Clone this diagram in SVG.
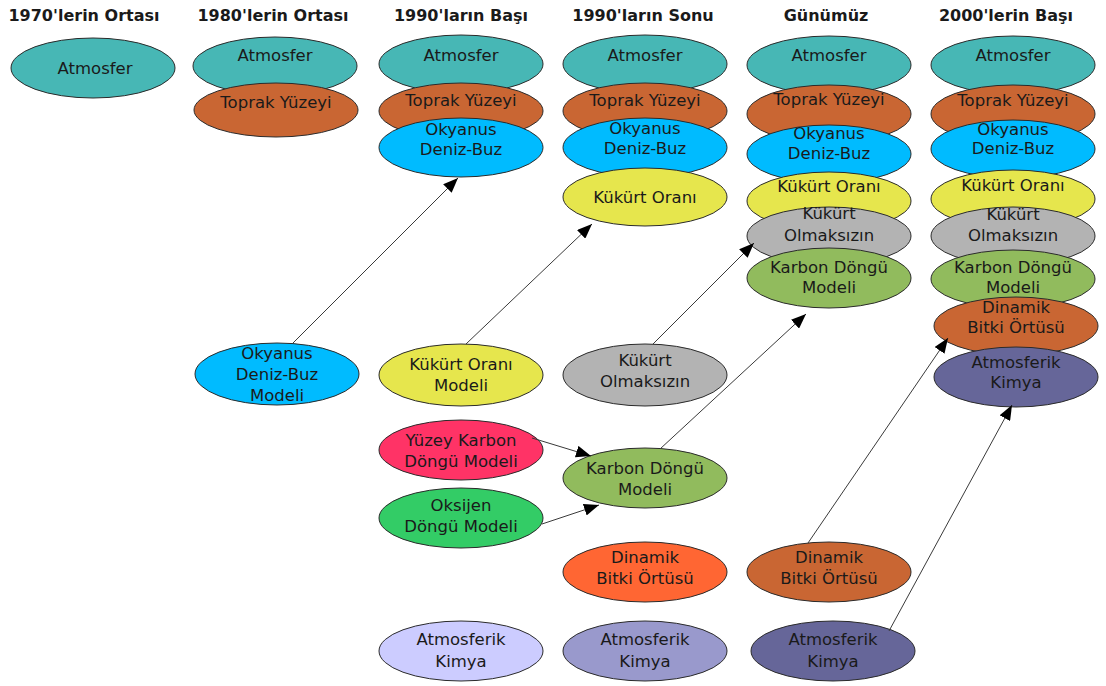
<svg xmlns="http://www.w3.org/2000/svg" width="1106" height="686" viewBox="0 0 1106 686">
  <style>
    .hd { font-family: "DejaVu Sans", Verdana, sans-serif; font-weight: bold; font-size: 16px; fill: #1a1a1a; text-anchor: middle; }
    .lb { font-family: "DejaVu Sans", Verdana, sans-serif; font-size: 16.5px; fill: #1a1a1a; text-anchor: middle; }
    ellipse { stroke: #2b2b2b; stroke-width: 1; }
    .atm { fill: #47b7b5; }
    .top { fill: #c96633; }
    .oky { fill: #00bbff; }
    .kor { fill: #e6e64d; }
    .kol { fill: #b3b3b3; }
    .kar { fill: #91bb5d; }
    .yuz { fill: #ff3366; }
    .oks { fill: #33cc66; }
    .din { fill: #ff6633; }
    .ak1 { fill: #ccccff; }
    .ak2 { fill: #9999cc; }
    .ak3 { fill: #666699; }
    .edge { stroke: #3a3a3a; stroke-width: 1; fill: none; marker-end: url(#arrow); }
  </style>
  <defs>
    <marker id="arrow" markerUnits="userSpaceOnUse" markerWidth="16" markerHeight="12" refX="15" refY="6" orient="auto">
      <path d="M0,0 L15,6 L0,12 z" fill="#000"/>
    </marker>
  </defs>
  <rect width="1106" height="686" fill="#ffffff"/>

  <!-- era headings -->
  <g id="headings">
    <text class="hd" x="84" y="21">1970'lerin Ortası</text>
    <text class="hd" x="273" y="21">1980'lerin Ortası</text>
    <text class="hd" x="461" y="21">1990'ların Başı</text>
    <text class="hd" x="643" y="21">1990'ların Sonu</text>
    <text class="hd" x="826" y="21">Günümüz</text>
    <text class="hd" x="1006" y="21">2000'lerin Başı</text>
  </g>

  <!-- mid 1970s -->
  <g id="c1-atmosfer"><ellipse class="atm" cx="93" cy="68" rx="82" ry="30"/><text class="lb" x="95" y="74">Atmosfer</text></g>

  <!-- mid 1980s -->
  <g id="c2-atmosfer"><ellipse class="atm" cx="275" cy="66" rx="82" ry="29"/><text class="lb" x="275" y="61">Atmosfer</text></g>
  <g id="c2-toprak"><ellipse class="top" cx="276" cy="110" rx="82" ry="27"/><text class="lb" x="276" y="108">Toprak Yüzeyi</text></g>

  <!-- early 1990s -->
  <g id="c3-atmosfer"><ellipse class="atm" cx="461" cy="64" rx="82" ry="29"/><text class="lb" x="461" y="61">Atmosfer</text></g>
  <g id="c3-toprak"><ellipse class="top" cx="461" cy="111" rx="82" ry="28"/><text class="lb" x="461" y="106">Toprak Yüzeyi</text></g>
  <g id="c3-okyanus"><ellipse class="oky" cx="461" cy="147.5" rx="82" ry="29.5"/><text class="lb" x="461" y="135">Okyanus</text><text class="lb" x="461" y="155">Deniz-Buz</text></g>

  <!-- late 1990s -->
  <g id="c4-atmosfer"><ellipse class="atm" cx="645" cy="64" rx="82" ry="29"/><text class="lb" x="645" y="61">Atmosfer</text></g>
  <g id="c4-toprak"><ellipse class="top" cx="645" cy="111" rx="82" ry="28"/><text class="lb" x="645" y="106">Toprak Yüzeyi</text></g>
  <g id="c4-okyanus"><ellipse class="oky" cx="645" cy="147.5" rx="82" ry="29.5"/><text class="lb" x="645" y="134">Okyanus</text><text class="lb" x="645" y="154">Deniz-Buz</text></g>
  <g id="c4-kukurt-orani"><ellipse class="kor" cx="645" cy="197" rx="82" ry="29"/><text class="lb" x="645" y="203">Kükürt Oranı</text></g>

  <!-- present day -->
  <g id="c5-atmosfer"><ellipse class="atm" cx="829" cy="65" rx="82" ry="29"/><text class="lb" x="829" y="61">Atmosfer</text></g>
  <g id="c5-toprak"><ellipse class="top" cx="829" cy="114" rx="82" ry="29"/><text class="lb" x="829" y="105">Toprak Yüzeyi</text></g>
  <g id="c5-okyanus"><ellipse class="oky" cx="829" cy="154" rx="82" ry="29"/><text class="lb" x="829" y="139">Okyanus</text><text class="lb" x="829" y="159">Deniz-Buz</text></g>
  <g id="c5-kukurt-orani"><ellipse class="kor" cx="829" cy="201" rx="82" ry="29"/><text class="lb" x="829" y="192">Kükürt Oranı</text></g>
  <g id="c5-kukurt-olmaksizin"><ellipse class="kol" cx="829" cy="236" rx="82" ry="29"/><text class="lb" x="829" y="219">Kükürt</text><text class="lb" x="829" y="241">Olmaksızın</text></g>
  <g id="c5-karbon"><ellipse class="kar" cx="829" cy="278" rx="82" ry="30"/><text class="lb" x="829" y="273">Karbon Döngü</text><text class="lb" x="829" y="293">Modeli</text></g>

  <!-- early 2000s -->
  <g id="c6-atmosfer"><ellipse class="atm" cx="1013" cy="65" rx="82" ry="29"/><text class="lb" x="1013" y="61">Atmosfer</text></g>
  <g id="c6-toprak"><ellipse class="top" cx="1013" cy="114" rx="82" ry="29"/><text class="lb" x="1013" y="106">Toprak Yüzeyi</text></g>
  <g id="c6-okyanus"><ellipse class="oky" cx="1013" cy="149" rx="82" ry="29"/><text class="lb" x="1013" y="135">Okyanus</text><text class="lb" x="1013" y="154">Deniz-Buz</text></g>
  <g id="c6-kukurt-orani"><ellipse class="kor" cx="1013" cy="199" rx="82" ry="29"/><text class="lb" x="1013" y="191">Kükürt Oranı</text></g>
  <g id="c6-kukurt-olmaksizin"><ellipse class="kol" cx="1013" cy="236" rx="82" ry="29"/><text class="lb" x="1013" y="220">Kükürt</text><text class="lb" x="1013" y="241">Olmaksızın</text></g>
  <g id="c6-karbon"><ellipse class="kar" cx="1013" cy="279" rx="82" ry="29"/><text class="lb" x="1013" y="273">Karbon Döngü</text><text class="lb" x="1013" y="293">Modeli</text></g>
  <g id="c6-dinamik"><ellipse class="top" cx="1016" cy="326" rx="82" ry="29"/><text class="lb" x="1016" y="313">Dinamik</text><text class="lb" x="1016" y="333">Bitki Örtüsü</text></g>
  <g id="c6-atmosferik"><ellipse class="ak3" cx="1016" cy="377" rx="82" ry="30"/><text class="lb" x="1016" y="368">Atmosferik</text><text class="lb" x="1016" y="388">Kimya</text></g>

  <!-- component models waiting to be coupled -->
  <g id="m-okyanus"><ellipse class="oky" cx="277" cy="374" rx="82" ry="31"/><text class="lb" x="277" y="359">Okyanus</text><text class="lb" x="277" y="380">Deniz-Buz</text><text class="lb" x="277" y="401">Modeli</text></g>
  <g id="m-kukurt-orani"><ellipse class="kor" cx="461" cy="375" rx="82" ry="31"/><text class="lb" x="461" y="370">Kükürt Oranı</text><text class="lb" x="461" y="391">Modeli</text></g>
  <g id="m-kukurt-olmaksizin"><ellipse class="kol" cx="645" cy="375" rx="82" ry="31"/><text class="lb" x="645" y="366">Kükürt</text><text class="lb" x="645" y="387">Olmaksızın</text></g>
  <g id="m-yuzey-karbon"><ellipse class="yuz" cx="461" cy="450" rx="82" ry="30"/><text class="lb" x="461" y="446">Yüzey Karbon</text><text class="lb" x="461" y="467">Döngü Modeli</text></g>
  <g id="m-oksijen"><ellipse class="oks" cx="461" cy="518" rx="82" ry="30"/><text class="lb" x="461" y="511">Oksijen</text><text class="lb" x="461" y="532">Döngü Modeli</text></g>
  <g id="m-karbon"><ellipse class="kar" cx="645" cy="478" rx="82" ry="30"/><text class="lb" x="645" y="474">Karbon Döngü</text><text class="lb" x="645" y="495">Modeli</text></g>
  <g id="m-dinamik-1"><ellipse class="din" cx="645" cy="572" rx="82" ry="30"/><text class="lb" x="645" y="563">Dinamik</text><text class="lb" x="645" y="584">Bitki Örtüsü</text></g>
  <g id="m-dinamik-2"><ellipse class="top" cx="829" cy="572" rx="82" ry="30"/><text class="lb" x="829" y="563">Dinamik</text><text class="lb" x="829" y="584">Bitki Örtüsü</text></g>
  <g id="m-atmosferik-1"><ellipse class="ak1" cx="461" cy="651" rx="82" ry="30"/><text class="lb" x="461" y="645">Atmosferik</text><text class="lb" x="461" y="667">Kimya</text></g>
  <g id="m-atmosferik-2"><ellipse class="ak2" cx="645" cy="651" rx="82" ry="30"/><text class="lb" x="645" y="645">Atmosferik</text><text class="lb" x="645" y="667">Kimya</text></g>
  <g id="m-atmosferik-3"><ellipse class="ak3" cx="833" cy="651" rx="82" ry="30"/><text class="lb" x="833" y="645">Atmosferik</text><text class="lb" x="833" y="667">Kimya</text></g>

  <!-- couplings -->
  <g id="connectors">
    <line class="edge" x1="293" y1="343" x2="458" y2="178"/>
    <line class="edge" x1="466" y1="344" x2="592" y2="224"/>
    <line class="edge" x1="653" y1="344" x2="754" y2="243"/>
    <line class="edge" x1="660" y1="449" x2="806" y2="314"/>
    <line class="edge" x1="532" y1="438" x2="591" y2="456"/>
    <line class="edge" x1="542" y1="524" x2="599" y2="505"/>
    <line class="edge" x1="808" y1="543" x2="948" y2="338"/>
    <line class="edge" x1="889" y1="631" x2="1012" y2="405"/>
  </g>
</svg>
